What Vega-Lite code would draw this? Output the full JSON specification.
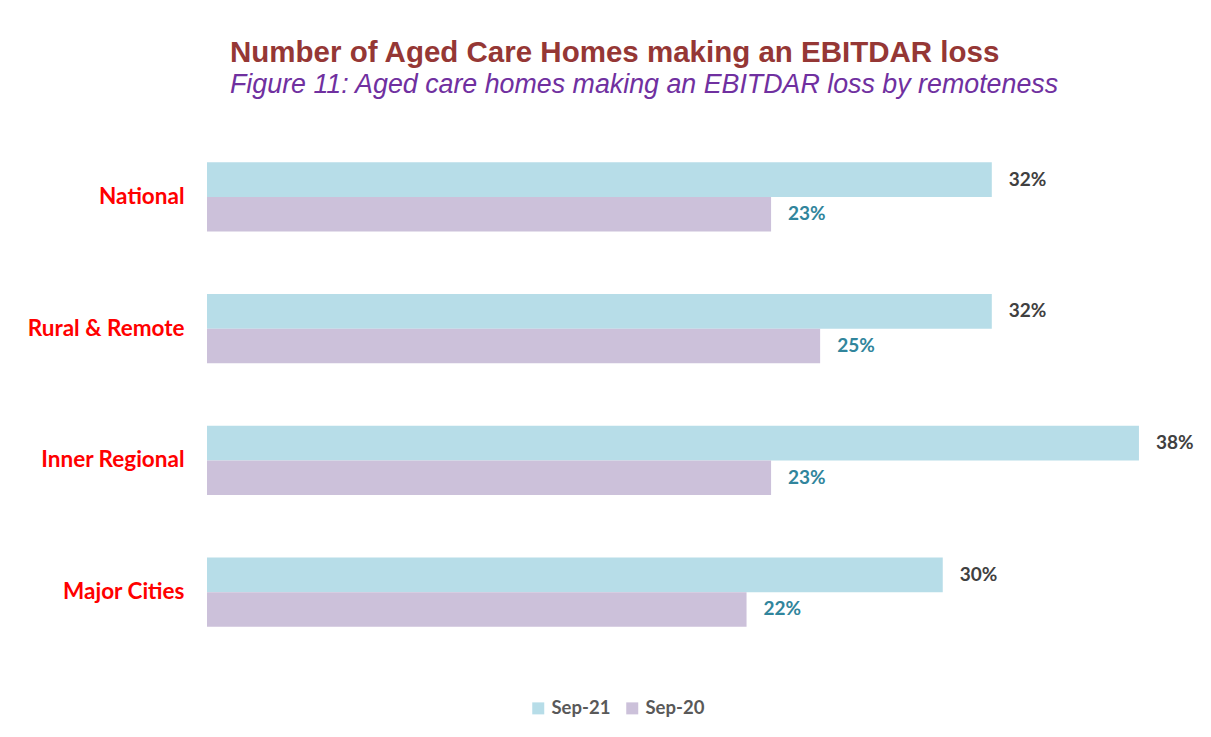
{
  "$schema": "https://vega.github.io/schema/vega-lite/v6.json",
  "autosize": {"type": "none"},
  "padding": {"left": 207, "top": 131, "right": 23, "bottom": 79},
  "width": 981,
  "height": 527,
  "background": "white",
  "title": {
    "text": "Number of Aged Care Homes making an EBITDAR loss",
    "subtitle": "Figure 11: Aged care homes making an EBITDAR loss by remoteness",
    "anchor": "start",
    "frame": "group",
    "dx": 23,
    "offset": 31,
    "font": "Liberation Sans",
    "fontSize": 29.5,
    "fontWeight": "bold",
    "color": "#953735",
    "subtitleFont": "Liberation Sans",
    "subtitleFontSize": 26.8,
    "subtitleFontStyle": "italic",
    "subtitleColor": "#7030a0",
    "subtitlePadding": 4
  },
  "data": {
    "values": [
      {"region": "National", "series": "Sep-21", "value": 0.32},
      {"region": "National", "series": "Sep-20", "value": 0.23},
      {"region": "Rural & Remote", "series": "Sep-21", "value": 0.32},
      {"region": "Rural & Remote", "series": "Sep-20", "value": 0.25},
      {"region": "Inner Regional", "series": "Sep-21", "value": 0.38},
      {"region": "Inner Regional", "series": "Sep-20", "value": 0.23},
      {"region": "Major Cities", "series": "Sep-21", "value": 0.30},
      {"region": "Major Cities", "series": "Sep-20", "value": 0.22}
    ]
  },
  "encoding": {
    "y": {
      "field": "region",
      "type": "nominal",
      "sort": ["National", "Rural & Remote", "Inner Regional", "Major Cities"],
      "scale": {"paddingInner": 0.476, "paddingOuter": 0.238},
      "axis": {
        "title": null,
        "domain": false,
        "ticks": false,
        "labelPadding": 23,
        "labelFont": "Lato",
        "labelFontSize": 22.5,
        "labelFontWeight": "bold",
        "labelColor": "#ff0000"
      }
    },
    "yOffset": {
      "field": "series",
      "type": "nominal",
      "sort": ["Sep-21", "Sep-20"],
      "scale": {"paddingInner": 0, "paddingOuter": 0}
    },
    "x": {
      "field": "value",
      "type": "quantitative",
      "scale": {"domain": [0, 0.4]},
      "axis": null
    }
  },
  "layer": [
    {
      "mark": {"type": "bar", "cornerRadius": 0},
      "encoding": {
        "color": {
          "field": "series",
          "type": "nominal",
          "scale": {"domain": ["Sep-21", "Sep-20"], "range": ["#b7dde8", "#ccc1da"]},
          "legend": {
            "title": null,
            "orient": "none",
            "direction": "horizontal",
            "legendX": 322,
            "legendY": 568,
            "symbolType": "square",
            "symbolSize": 144,
            "symbolStrokeWidth": 0,
            "labelFont": "Lato",
            "labelFontSize": 18.5,
            "labelFontWeight": "bold",
            "labelColor": "#595959",
            "columnPadding": 12,
            "labelOffset": 4
          }
        }
      }
    },
    {
      "mark": {"type": "text", "align": "left", "baseline": "middle", "dx": 17, "font": "Lato", "fontSize": 19, "fontWeight": "bold"},
      "encoding": {
        "text": {"field": "value", "type": "quantitative", "format": ".0%"},
        "color": {
          "condition": {"test": "datum.series === 'Sep-21'", "value": "#404040"},
          "value": "#31859c"
        }
      }
    }
  ],
  "config": {
    "view": {"stroke": null}
  }
}
